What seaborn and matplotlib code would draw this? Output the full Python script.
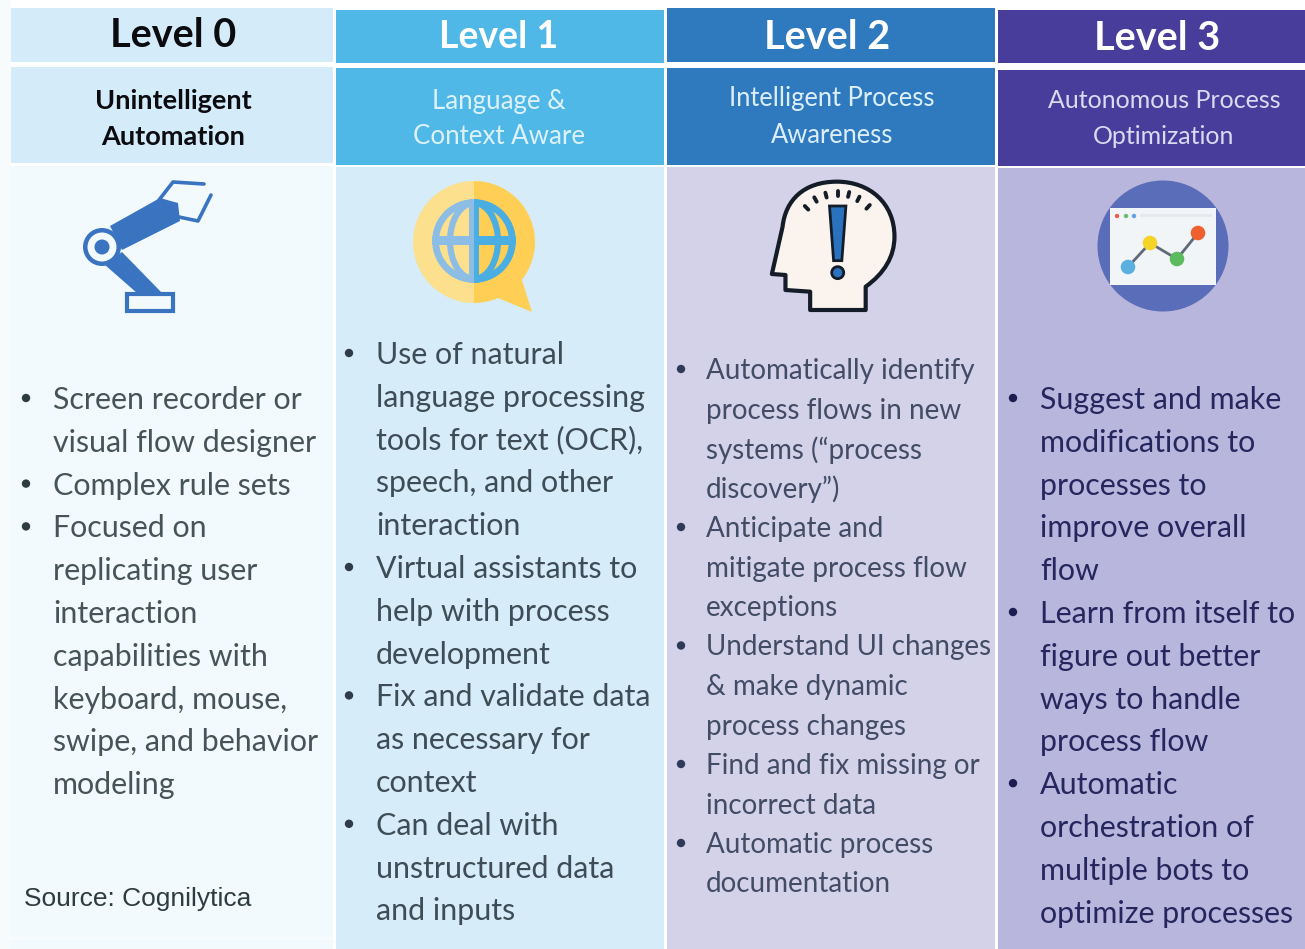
import numpy as np
import matplotlib
matplotlib.use("Agg")
import matplotlib.pyplot as plt
import seaborn as sns
from matplotlib.colors import ListedColormap
from matplotlib.patches import Circle, Ellipse, Polygon, Rectangle, Wedge, PathPatch
from matplotlib.path import Path

levels = ["Level 0", "Level 1", "Level 2", "Level 3"]
subtitles = [
    ["Unintelligent", "Automation"],
    ["Language &", "Context Aware"],
    ["Intelligent Process", "Awareness"],
    ["Autonomous Process", "Optimization"],
]
level0_lines = [
    "Screen recorder or", "visual flow designer", "Complex rule sets", "Focused on",
    "replicating user", "interaction", "capabilities with", "keyboard, mouse,",
    "swipe, and behavior", "modeling",
]
level1_lines = [
    "Use of natural", "language processing", "tools for text (OCR),", "speech, and other",
    "interaction", "Virtual assistants to", "help with process", "development",
    "Fix and validate data", "as necessary for", "context", "Can deal with",
    "unstructured data", "and inputs",
]
level2_lines = [
    "Automatically identify", "process flows in new", "systems (“process", "discovery”)",
    "Anticipate and", "mitigate process flow", "exceptions", "Understand UI changes",
    "& make dynamic", "process changes", "Find and fix missing or", "incorrect data",
    "Automatic process", "documentation",
]
level3_lines = [
    "Suggest and make", "modifications to", "processes to", "improve overall", "flow",
    "Learn from itself to", "figure out better", "ways to handle", "process flow",
    "Automatic", "orchestration of", "multiple bots to", "optimize processes",
]
level0_bullets = [0, 2, 3]
level1_bullets = [0, 5, 8, 11]
level2_bullets = [0, 4, 7, 10, 12]
level3_bullets = [0, 5, 9]
source = "Source: Cognilytica"

palette = [
    "#FFFFFF", "#F8FBFB",
    "#D4ECFA", "#50B8E6", "#2F7ABF", "#483D9B",
    "#F2FAFE", "#D6ECF9", "#D3D2E9", "#B8B6DC",
]

W, H = 1305, 949

# pixel grid of colour indexes, so the heatmap axes are in pixels
col_edges = [(11, 333), (336, 664), (667, 995), (998, 1305)]
head_y = [(8, 62), (10, 63), (8, 62), (10, 63)]
sub_y = [(67, 163), (68, 165), (68, 165), (70, 166)]
body_y = [(166, 949), (167, 949), (167, 949), (168, 949)]

grid = np.zeros((H, W), dtype=int)
grid[:, :11] = 1
for i, (x0, x1) in enumerate(col_edges):
    grid[head_y[i][0]:head_y[i][1], x0:x1] = 2 + i
    grid[sub_y[i][0]:sub_y[i][1], x0:x1] = 2 + i
    grid[body_y[i][0]:body_y[i][1], x0:x1] = 6 + i
grid[937:940, 11:333] = 1

sns.set_theme(style="white")

fig = plt.figure(figsize=(W / 100, H / 100), dpi=100)
ax = fig.add_axes([0, 0, 1, 1])

sns.heatmap(
    grid,
    cmap=ListedColormap(palette),
    vmin=-0.5,
    vmax=len(palette) - 0.5,
    cbar=False,
    xticklabels=False,
    yticklabels=False,
    ax=ax
)
ax.set_xlabel("")
ax.set_ylabel("")

FONT = "Lato"
head_color = ["#0B0B10", "#FFFFFF", "#FFFFFF", "#FFFFFF"]
sub_color = ["#0B0B10", "#DDF1FA", "#DCEEFA", "#DCD9F2"]
body_color = ["#46545A", "#3E4C56", "#424C66", "#26265E"]
bullet_color = ["#2E3C42", "#2E3C48", "#2E3A58", "#1C1C50"]

head_cx = [173, 499, 827, 1157]
head_cy = [35, 37, 37, 38]
head_size = [28.5, 27, 28.5, 28.5]
sub_cx = [173, 499, 832, 1164]
sub_cy = [(101, 137), (101, 136), (98, 135), (100, 136)]
sub_size = [19.5, 18.6, 18.4, 18]

for i in range(4):
    ax.text(head_cx[i], head_cy[i], levels[i], ha="center", va="center",
            fontsize=head_size[i], fontweight="bold", family=FONT, color=head_color[i])
    for j in range(2):
        ax.text(sub_cx[i], sub_cy[i][j], subtitles[i][j], ha="center", va="center",
                fontsize=sub_size[i], fontweight="bold" if i == 0 else "normal",
                family=FONT, color=sub_color[i])

columns = [
    (level0_lines, level0_bullets, 26, 53, 400, 42.8, 21.9),
    (level1_lines, level1_bullets, 349, 376, 355, 42.8, 21.9),
    (level2_lines, level2_bullets, 681, 706, 371, 39.5, 20),
    (level3_lines, level3_bullets, 1013, 1040, 400, 42.8, 21.9),
]
for i, (lines, bullets, bx, tx, y0, step, size) in enumerate(columns):
    for k, line in enumerate(lines):
        y = y0 + k * step
        ax.text(tx, y, line, ha="left", va="center", fontsize=size, family=FONT,
                color=body_color[i])
        if k in bullets:
            ax.add_patch(Circle((bx, y - 2), 4.2, color=bullet_color[i], lw=0))

ax.text(24, 899, source, ha="left", va="center", fontsize=19,
        family="Liberation Sans", color="#2E3C3E")

# robot arm
arm = "#3A74C0"
ax.add_patch(Rectangle((127, 294), 46, 17, fill=False, ec=arm, lw=3))
ax.add_patch(Polygon([(105, 265), (122, 252), (162, 293), (137, 293)], color=arm, lw=0))
ax.add_patch(Polygon([(110, 226), (160, 198), (178, 203), (180, 221), (122, 250)], color=arm, lw=0))
ax.add_patch(Circle((102, 247), 19, color=arm, lw=0))
ax.add_patch(Circle((102, 247), 14.5, color="#F2FAFE", lw=0))
ax.add_patch(Circle((102, 247), 7.5, color=arm, lw=0))
ax.plot([159, 173, 204], [200, 182, 184], color=arm, lw=2.6)
ax.plot([179, 198, 211], [217, 221, 195], color=arm, lw=2.6)

# globe speech bubble
ax.add_patch(Polygon([(522, 280), (532, 312), (498, 298)], color="#FFCF55", lw=0))
ax.add_patch(Wedge((474, 242), 61, 90, 270, color="#FCE08E", lw=0))
ax.add_patch(Wedge((474, 242), 61, 270, 90, color="#FFCF55", lw=0))
for color, fill, t0, t1 in [("#8CBEE5", "#FCE08E", 90, 270), ("#4BAEE3", "#FFCF55", 270, 90)]:
    clip = Wedge((474, 241), 42, t0, t1, transform=ax.transData)
    for part in [
        Circle((474, 241), 42, color=color, lw=0),
        Circle((474, 241), 35, color=fill, lw=0),
        Ellipse((474, 241), 48, 76, fill=False, ec=color, lw=4.5),
        Rectangle((428, 236), 92, 9, color=color, lw=0),
        Rectangle((469, 199), 10, 84, color=color, lw=0),
    ]:
        ax.add_patch(part)
        part.set_clip_path(clip)

# head with exclamation mark
def hx(z):
    return 660 + z / 2.431

def hy(z):
    return z / 3

head_pts = [
    (365, 930), (500, 930), (500, 860),
    (545, 820), (570, 770), (570, 710),
    (570, 610), (510, 545), (430, 545),
    (350, 545), (305, 600), (298, 680),
    (272, 822), (305, 825), (305, 870), (365, 875), (365, 930),
]
head_codes = [
    Path.MOVETO, Path.LINETO, Path.LINETO,
    Path.CURVE4, Path.CURVE4, Path.CURVE4,
    Path.CURVE4, Path.CURVE4, Path.CURVE4,
    Path.CURVE4, Path.CURVE4, Path.CURVE4,
    Path.LINETO, Path.LINETO, Path.LINETO, Path.LINETO, Path.CLOSEPOLY,
]
ax.add_patch(PathPatch(Path([(hx(a), hy(b)) for a, b in head_pts], head_codes),
                       fc="#FBF3EE", ec="#141C28", lw=3, joinstyle="round"))
ax.add_patch(Polygon([(hx(412), hy(618)), (hx(452), hy(618)), (hx(442), hy(782)), (hx(422), hy(782))],
                     fc="#2A72BE", ec="#141C28", lw=2))
ax.add_patch(Circle((hx(432), hy(818)), 6, fc="#2A72BE", ec="#141C28", lw=2))
for a, b in [(352, 618), (375, 592), (402, 578), (432, 572), (460, 576), (485, 590), (510, 615)]:
    dx, dy = hx(432) - hx(a), hy(720) - hy(b)
    n = np.hypot(dx, dy)
    ax.plot([hx(a), hx(a) + 5 * dx / n], [hy(b), hy(b) + 5 * dy / n],
            color="#141C28", lw=2.8)

# dashboard in a circle
ax.add_patch(Circle((1163, 246), 65.5, color="#5A6DB8", lw=0))
ax.add_patch(Rectangle((1110, 208), 106, 77, color="#F2F5F7", lw=0))
ax.add_patch(Rectangle((1140, 214), 72, 3, color="#E6EAEE", lw=0))
for x, c in [(1117, "#E8604C"), (1126, "#6CBB6A"), (1134, "#5AA6DC")]:
    ax.add_patch(Circle((x, 216), 2.2, color=c, lw=0))
pts_x = [1128, 1150, 1177, 1198]
pts_y = [267, 243, 259, 233]
ax.plot(pts_x, pts_y, color="#5E6A78", lw=2, zorder=3)
ax.scatter(pts_x, pts_y, s=110, c=["#5AB0E0", "#F5D327", "#5DBB5F", "#F0602F"], lw=0, zorder=4)

ax.set_xlim(0, W)
ax.set_ylim(H, 0)
plt.savefig("out.png", dpi=100)
plt.close()
